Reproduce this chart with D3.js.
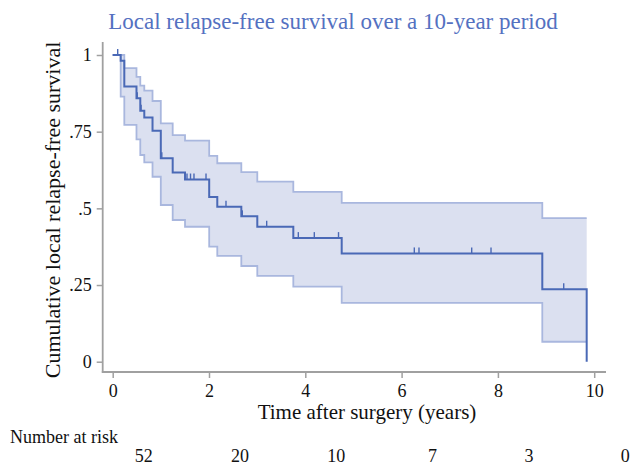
<!DOCTYPE html>
<html>
<head>
<meta charset="utf-8">
<script src="https://cdn.jsdelivr.net/npm/d3@7"></script>
<style>
  body { margin: 0; background: #fff; }
  svg text { font-family: "Liberation Serif", "Times New Roman", serif; }
</style>
</head>
<body>
<div id="chart"></div>
<script>
// Kaplan-Meier steps (time in years), value after each step
var times = [0, 0.166, 0.241, 0.494, 0.573, 0.656, 0.827, 0.999, 1.246, 1.502, 2.004, 2.172, 2.671, 3.003, 3.751, 4.756, 8.922, 9.844];
var surv  = [1, 0.981, 0.897, 0.859, 0.818, 0.796, 0.753, 0.663, 0.617, 0.594, 0.537, 0.505, 0.474, 0.440, 0.403, 0.353, 0.236, 0];
var upper = [1, 1.000, 0.957, 0.929, 0.900, 0.884, 0.850, 0.777, 0.739, 0.721, 0.671, 0.647, 0.618, 0.587, 0.554, 0.518, 0.468, 0.468];
var lower = [1, 0.864, 0.772, 0.725, 0.674, 0.650, 0.603, 0.511, 0.462, 0.440, 0.375, 0.345, 0.312, 0.280, 0.245, 0.192, 0.065, 0.065];

// censored observations
var censTimes = [0.104, 0.51, 0.59, 1.02, 1.543, 1.616, 1.688, 1.938, 2.353, 2.692, 3.198, 3.855, 4.187, 4.69, 6.264, 6.361, 7.456, 7.857, 9.367];
var censSurv  = [1, 0.859, 0.818, 0.663, 0.594, 0.594, 0.594, 0.594, 0.505, 0.474, 0.440, 0.403, 0.403, 0.403, 0.353, 0.353, 0.353, 0.353, 0.236];

var xTicks = [0, 2, 4, 6, 8, 10];
var yTicks = [0, 0.25, 0.5, 0.75, 1];
var yTickLabels = ["0", ".25", ".5", ".75", "1"];
var atRisk = [52, 20, 10, 7, 3, 0];

var width = 632, height = 465;
var serif = "'Liberation Serif', 'Times New Roman', serif";
var lineColor = "#4a69b6", bandFill = "#dbe0f0", bandLine = "#a9b7de", axisColor = "#a0a0a0";

var svg = d3.select("#chart")
  .append("svg")
    .attr("width", width)
    .attr("height", height);

var x = d3.scaleLinear().domain([0, 10]).range([112.7, 594.2]);
var y = d3.scaleLinear().domain([0, 1]).range([361.7, 55]);

var rows = times.map(function(t, i) {
  return {t: t, s: surv[i], hi: upper[i], lo: lower[i]};
});

// confidence band
svg.append("path")
  .datum(rows)
  .attr("fill", bandFill)
  .attr("d", d3.area()
    .curve(d3.curveStepAfter)
    .x(function(d) { return x(d.t); })
    .y0(function(d) { return y(d.lo); })
    .y1(function(d) { return y(d.hi); }));

["hi", "lo"].forEach(function(k) {
  svg.append("path")
    .datum(rows)
    .attr("fill", "none")
    .attr("stroke", bandLine)
    .attr("stroke-width", 1.8)
    .attr("d", d3.line()
      .curve(d3.curveStepAfter)
      .x(function(d) { return x(d.t); })
      .y(function(d) { return y(d[k]); }));
});

// survival curve
svg.append("path")
  .datum(rows)
  .attr("fill", "none")
  .attr("stroke", lineColor)
  .attr("stroke-width", 2)
  .attr("d", d3.line()
    .curve(d3.curveStepAfter)
    .x(function(d) { return x(d.t); })
    .y(function(d) { return y(d.s); }));

// censoring marks
svg.append("g")
  .selectAll("line")
  .data(censTimes)
  .enter()
  .append("line")
    .attr("x1", function(d) { return x(d); })
    .attr("x2", function(d) { return x(d); })
    .attr("y1", function(d, i) { return y(censSurv[i]); })
    .attr("y2", function(d, i) { return y(censSurv[i]) - 6; })
    .attr("stroke", lineColor)
    .attr("stroke-width", 1.4);

// axes
var xAxis = svg.append("g")
  .attr("transform", "translate(0,372)")
  .call(d3.axisBottom(x).tickValues(xTicks).tickSize(6).tickPadding(6).tickFormat(d3.format("d")));
var yAxis = svg.append("g")
  .attr("transform", "translate(102.7,0)")
  .call(d3.axisLeft(y).tickValues(yTicks).tickSize(6).tickPadding(5)
    .tickFormat(function(d, i) { return yTickLabels[i]; }));

[xAxis, yAxis].forEach(function(a) {
  a.attr("font-family", serif).attr("font-size", 18);
  a.select(".domain").remove();
  a.selectAll(".tick line").attr("stroke", axisColor).attr("stroke-width", 1.5);
  a.selectAll(".tick text").attr("fill", "#111");
});

svg.append("line")
  .attr("x1", 102.7).attr("x2", 102.7)
  .attr("y1", 42).attr("y2", 372.7)
  .attr("stroke", axisColor).attr("stroke-width", 1.8);
svg.append("line")
  .attr("x1", 101.8).attr("x2", 606)
  .attr("y1", 372).attr("y2", 372)
  .attr("stroke", axisColor).attr("stroke-width", 1.8);

// titles
svg.append("text")
  .attr("x", 333).attr("y", 29)
  .attr("text-anchor", "middle")
  .attr("fill", "#5471c1")
  .attr("font-family", serif)
  .attr("font-size", 23)
  .text("Local relapse-free survival over a 10-year period");

svg.append("text")
  .attr("transform", "translate(60,210) rotate(-90)")
  .attr("text-anchor", "middle")
  .attr("fill", "#111")
  .attr("font-family", serif)
  .attr("font-size", 22)
  .text("Cumulative local relapse-free survival");

svg.append("text")
  .attr("x", 367).attr("y", 419)
  .attr("text-anchor", "middle")
  .attr("fill", "#111")
  .attr("font-family", serif)
  .attr("font-size", 21)
  .text("Time after surgery (years)");

// number at risk table
svg.append("text")
  .attr("x", 10).attr("y", 443)
  .attr("fill", "#111")
  .attr("font-family", serif)
  .attr("font-size", 18)
  .text("Number at risk");

svg.append("g")
  .selectAll("text")
  .data(atRisk)
  .enter()
  .append("text")
    .attr("x", function(d, i) { return x(xTicks[i]) + 31; })
    .attr("y", 462)
    .attr("text-anchor", "middle")
    .attr("fill", "#111")
    .attr("font-family", serif)
    .attr("font-size", 18)
    .text(function(d) { return d; });
</script>
</body>
</html>
